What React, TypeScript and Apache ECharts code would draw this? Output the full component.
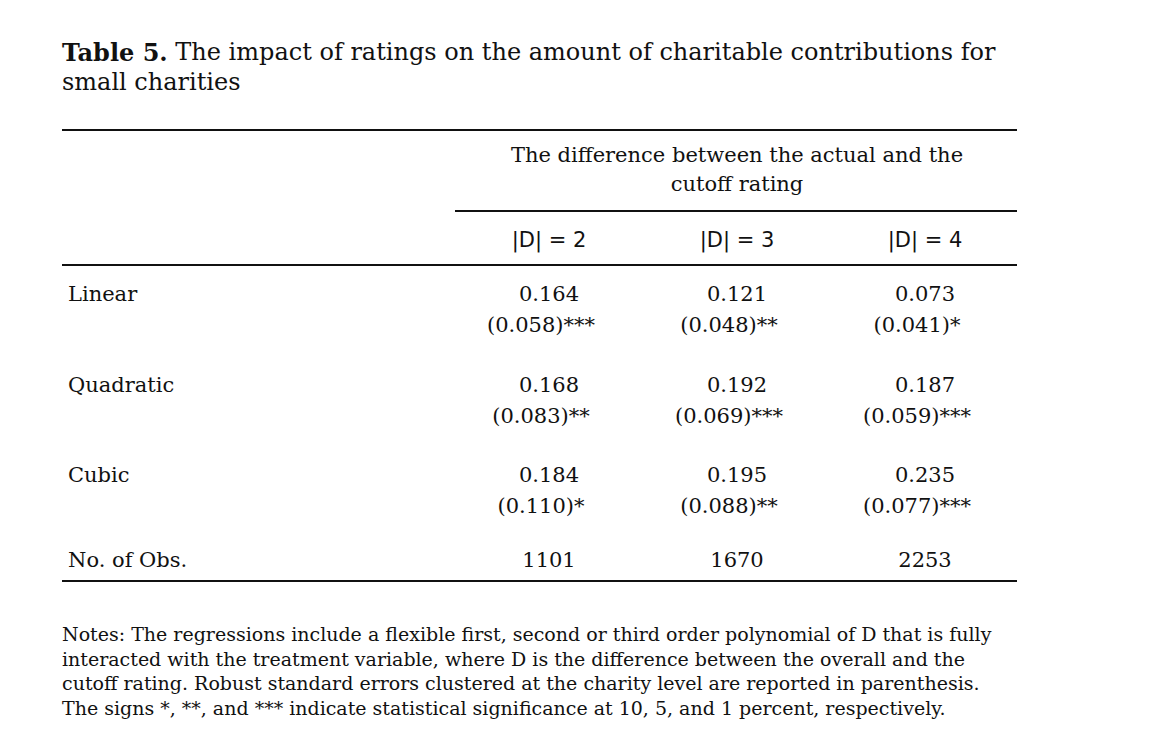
import { useRef, useEffect } from "react";
import * as echarts from "echarts";

const titleBold = "Table 5.";
const titleLines = [
  " The impact of ratings on the amount of charitable contributions for",
  "small charities",
];
const spanHeader = ["The difference between the actual and the", "cutoff rating"];
const columns = ["|D| = 2", "|D| = 3", "|D| = 4"];
const rowLabels = ["Linear", "Quadratic", "Cubic"];
const coefs = [
  ["0.164", "0.121", "0.073"],
  ["0.168", "0.192", "0.187"],
  ["0.184", "0.195", "0.235"],
];
const stdErrs = [
  ["(0.058)***", "(0.048)**", "(0.041)*"],
  ["(0.083)**", "(0.069)***", "(0.059)***"],
  ["(0.110)*", "(0.088)**", "(0.077)***"],
];
const obsLabel = "No. of Obs.";
const obs = ["1101", "1670", "2253"];
const notes = [
  "Notes: The regressions include a flexible first, second or third order polynomial of D that is fully",
  "interacted with the treatment variable, where D is the difference between the overall and the",
  "cutoff rating. Robust standard errors clustered at the charity level are reported in parenthesis.",
  "The signs *, **, and *** indicate statistical significance at 10, 5, and 1 percent, respectively.",
];

const FONT = "'DejaVu Serif', serif";
const OFF = -8;
const colX = [549, 737, 925];
const rowY = [294, 385, 475];

function App() {
  const chartRef = useRef<HTMLDivElement>(null);

  useEffect(() => {
    if (!chartRef.current) return;
    const chart = echarts.init(chartRef.current, undefined, { renderer: "svg" });

    const txt = (text: string, x: number, y: number, align = "left", size = 21, weight = "normal", family = FONT) => ({
      type: "text",
      x: x + OFF,
      y: y + OFF,
      style: { text, fill: "#111", font: `${weight} ${size}px ${family}`, textAlign: align, textVerticalAlign: "middle" },
    });
    const rule = (x1: number, x2: number, y: number, w = 2) => ({
      type: "line",
      shape: { x1: x1 + OFF, y1: y + OFF, x2: x2 + OFF, y2: y + OFF },
      style: { stroke: "#111", lineWidth: w },
    });

    const elements: any[] = [];
    elements.push({
      type: "text",
      x: 62 + OFF,
      y: 52 + OFF,
      style: {
        text: `{b|${titleBold}}{n|${titleLines[0]}}`,
        textVerticalAlign: "middle",
        rich: {
          b: { font: `bold 24px ${FONT}`, fill: "#111" },
          n: { font: `normal 24px ${FONT}`, fill: "#111" },
        },
      },
    });
    elements.push(txt(titleLines[1], 62, 82, "left", 24));
    elements.push(rule(62, 1017, 130));
    spanHeader.forEach((s, i) => elements.push(txt(s, 737, 155 + i * 29, "center")));
    elements.push(rule(455, 1017, 211));
    columns.forEach((c, i) =>
      elements.push(txt(c, colX[i], 240, "center", 21, "normal", "'DejaVu Sans', sans-serif"))
    );
    elements.push(rule(62, 1017, 265));
    rowLabels.forEach((r, ri) => {
      elements.push(txt(r, 68, rowY[ri], "left"));
      colX.forEach((x, ci) => {
        elements.push(txt(coefs[ri][ci], x, rowY[ri], "center"));
        elements.push(txt(stdErrs[ri][ci], x - 8, rowY[ri] + 31, "center"));
      });
    });
    elements.push(txt(obsLabel, 68, 560, "left"));
    obs.forEach((o, i) => elements.push(txt(o, colX[i], 560, "center")));
    elements.push(rule(62, 1017, 581));
    notes.forEach((n, i) => elements.push(txt(n, 62, 634 + i * 24.5, "left", 19)));

    chart.setOption({ animation: false, graphic: { elements } });
    return () => chart.dispose();
  }, []);

  return <div ref={chartRef} style={{ width: "1156px", height: "740px", background: "#fff" }} />;
}

export default App;
